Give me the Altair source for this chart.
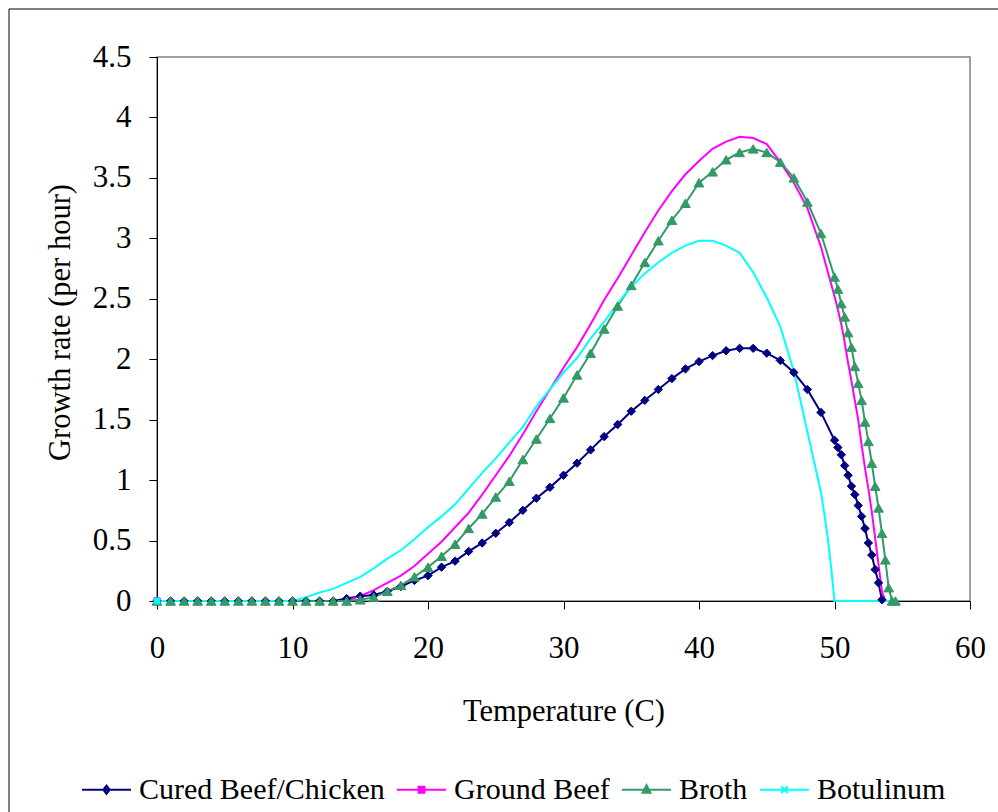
import altair as alt
import pandas as pd

SERIES = ["Cured Beef/Chicken", "Ground Beef", "Broth", "Botulinum"]
COLORS = ["#000080", "#FF00FF", "#339966", "#00FFFF"]

TEMPS_WHOLE = [0, 1, 2, 3, 4, 5, 6, 7, 8, 9, 10, 11, 12, 13, 14, 15, 16, 17, 18, 19,
               20, 21, 22, 23, 24, 25, 26, 27, 28, 29, 30, 31, 32, 33, 34, 35, 36, 37, 38, 39,
               40, 41, 42, 43, 44, 45, 46, 47, 48, 49]

# Cured Beef/Chicken
CURED_T = TEMPS_WHOLE + [50, 50.25, 50.5, 50.75, 51, 51.25, 51.5, 51.75, 52, 52.25,
                         52.5, 52.75, 53, 53.25, 53.5]
CURED_V = [0, 0, 0, 0, 0, 0, 0, 0, 0, 0, 0, 0, 0, 0,
           0.02, 0.04, 0.05, 0.08, 0.12, 0.17, 0.21, 0.28, 0.33, 0.41, 0.48, 0.56, 0.65, 0.75,
           0.85, 0.94, 1.04, 1.14, 1.25, 1.36, 1.46, 1.57, 1.66, 1.75, 1.84, 1.92, 1.98, 2.03,
           2.07, 2.09, 2.09, 2.05, 1.99, 1.89, 1.75, 1.56,
           1.33, 1.27, 1.21, 1.12, 1.04, 0.95, 0.88, 0.79, 0.70, 0.60, 0.48, 0.38, 0.26, 0.15, 0.01]

# Ground Beef
GROUND_T = TEMPS_WHOLE + [50, 50.25, 50.5, 50.75, 51, 51.25, 51.5, 51.75, 52, 52.25,
                          52.5, 52.75, 53, 53.25, 53.5, 53.75, 54, 54.25, 54.5]
GROUND_V = [0, 0, 0, 0, 0, 0, 0, 0, 0, 0, 0, 0, 0, 0, 0,
            0.04, 0.09, 0.15, 0.21, 0.29, 0.39, 0.49, 0.61, 0.73, 0.88, 1.04, 1.20, 1.38,
            1.57, 1.75, 1.93, 2.10, 2.29, 2.49, 2.67, 2.86, 3.05, 3.23, 3.39, 3.53, 3.64,
            3.74, 3.80, 3.84, 3.83, 3.78, 3.63, 3.46, 3.25, 2.93,
            2.52, 2.41, 2.29, 2.14, 1.97, 1.82, 1.66, 1.50, 1.29, 1.10, 0.93, 0.74, 0.52,
            0.30, 0.08, 0, 0, 0, 0]

# Broth
BROTH_T = TEMPS_WHOLE + [50, 50.25, 50.5, 50.75, 51, 51.25, 51.5, 51.75, 52, 52.25,
                         52.5, 52.75, 53, 53.25, 53.5, 53.75, 54, 54.25, 54.5]
BROTH_V = [0, 0, 0, 0, 0, 0, 0, 0, 0, 0, 0, 0, 0, 0, 0,
           0.01, 0.03, 0.08, 0.13, 0.20, 0.28, 0.37, 0.47, 0.60, 0.72, 0.86, 0.99, 1.17,
           1.34, 1.51, 1.68, 1.87, 2.05, 2.25, 2.44, 2.61, 2.80, 2.98, 3.15, 3.29, 3.46,
           3.55, 3.65, 3.71, 3.74, 3.71, 3.63, 3.50, 3.30, 3.04,
           2.68, 2.58, 2.46, 2.35, 2.22, 2.10, 1.94, 1.80, 1.66, 1.48, 1.32, 1.14, 0.95,
           0.77, 0.56, 0.34, 0.11, 0, 0]

# Botulinum
BOTUL_T = TEMPS_WHOLE + [49.25, 49.5, 49.75, 50, 51, 52, 53, 54, 54.5]
BOTUL_V = [0, 0, 0, 0, 0, 0, 0, 0, 0, 0, 0,
           0.03, 0.07, 0.10, 0.15, 0.20, 0.27, 0.35, 0.42, 0.51, 0.61, 0.70, 0.80, 0.93,
           1.06, 1.18, 1.31, 1.44, 1.61, 1.75, 1.89, 2.01, 2.17, 2.31, 2.46, 2.60, 2.71,
           2.80, 2.88, 2.94, 2.98, 2.98, 2.94, 2.88, 2.72, 2.51, 2.27, 1.90, 1.40, 0.90,
           0.72, 0.52, 0.28, 0, 0, 0, 0, 0, 0]

X_TICKS = [0, 10, 20, 30, 40, 50, 60]
Y_TICKS = [0, 0.5, 1, 1.5, 2, 2.5, 3, 3.5, 4, 4.5]

rows = []
for name, ts, vs in [(SERIES[0], CURED_T, CURED_V), (SERIES[1], GROUND_T, GROUND_V),
                     (SERIES[2], BROTH_T, BROTH_V), (SERIES[3], BOTUL_T, BOTUL_V)]:
    for i, (t, v) in enumerate(zip(ts, vs)):
        rows.append({"series": name, "temp": t, "rate": v, "idx": i})
df = pd.DataFrame(rows)

FONT = "Liberation Serif"
TICK_FS = 31
TITLE_FS = 30.5
LEGEND_FS = 30

x_enc = alt.X("temp:Q", scale=alt.Scale(domain=[0, 60], nice=False, zero=False),
              axis=alt.Axis(values=X_TICKS, title="Temperature (C)", grid=False,
                            tickSize=8, tickColor="black", domainColor="black",
                            labelFont=FONT, labelFontSize=TICK_FS, labelColor="black",
                            labelPadding=24, labelFlush=False, labelOverlap=False,
                            titleFont=FONT, titleFontSize=TITLE_FS, titleFontWeight="normal",
                            titleColor="black", titleY=119, titleBaseline="alphabetic"))
y_enc = alt.Y("rate:Q", scale=alt.Scale(domain=[0, 4.5], nice=False),
              axis=alt.Axis(values=Y_TICKS, format="~g", title="Growth rate (per hour)",
                            grid=False, tickSize=8, tickColor="black", domainColor="black",
                            labelFont=FONT, labelFontSize=TICK_FS, labelColor="black",
                            labelPadding=18,
                            titleFont=FONT, titleFontSize=TITLE_FS, titleFontWeight="normal",
                            titleColor="black", titleX=-97, titleY=265, titleAngle=270,
                            titleAlign="center", titleBaseline="middle"))

# legend symbols: a line segment with the series marker in the middle
LEGEND_PATHS = [
    "M-1,0L1,0M0,-0.17L0.13,0L0,0.17L-0.13,0ZM0,-0.08L0,0.08M-0.06,0L0.06,0",
    "M-1,0L1,0M-0.12,-0.12L0.12,-0.12L0.12,0.12L-0.12,0.12ZM-0.06,-0.06L0.06,-0.06L0.06,0.06L-0.06,0.06Z",
    "M-1,0L1,0M0,-0.19L0.16,0.12L-0.16,0.12ZM0,-0.06L0.06,0.06L-0.06,0.06Z",
    "M-1,0L1,0M-0.13,-0.13L0.13,0.13M-0.13,0.13L0.13,-0.13",
]

legend = alt.Legend(
    title=None, orient="none", legendX=-76, legendY=707, direction="horizontal",
    labelFont=FONT, labelFontSize=LEGEND_FS, labelColor="black", labelOffset=7,
    labelLimit=0, columnPadding=8, symbolSize=2401, symbolStrokeWidth=2, padding=0,
    symbolOpacity=1,
)

base = alt.Chart(df)

layers = []
for s, c in zip(SERIES, COLORS):
    layers.append(
        base.transform_filter(alt.datum.series == s)
        .mark_line(strokeWidth=2, color=c)
        .encode(x=x_enc, y=y_enc, order="idx:Q")
    )

layers += [
    base.transform_filter(alt.datum.series == SERIES[0])
    .mark_point(shape="diamond", filled=True, size=70, color=COLORS[0], stroke=COLORS[0],
                strokeWidth=1, opacity=1)
    .encode(x=x_enc, y=y_enc),
    base.transform_filter((alt.datum.series == SERIES[1]) & (alt.datum.idx == 0))
    .mark_point(shape="square", filled=True, size=40, color=COLORS[1], stroke=COLORS[1],
                strokeWidth=1, opacity=1)
    .encode(x=x_enc, y=y_enc),
    base.transform_filter(alt.datum.series == SERIES[2])
    .mark_point(shape="triangle-up", filled=True, size=95, color=COLORS[2], stroke=COLORS[2],
                strokeWidth=1, opacity=1)
    .encode(x=x_enc, y=y_enc),
    base.transform_filter((alt.datum.series == SERIES[3]) & (alt.datum.idx == 0))
    .mark_point(shape="square", filled=True, size=30, color=COLORS[3], stroke=COLORS[3],
                strokeWidth=1, opacity=1)
    .encode(x=x_enc, y=y_enc),
]

# legend-only layer (no rows drawn; entries come from the explicit scale domains)
legend_layer = (
    base.transform_filter(alt.datum.idx < 0)
    .mark_point(filled=False, strokeWidth=2, opacity=1)
    .encode(
        x=x_enc, y=y_enc,
        color=alt.Color("series:N", scale=alt.Scale(domain=SERIES, range=COLORS), legend=legend),
        shape=alt.Shape("series:N", scale=alt.Scale(domain=SERIES, range=LEGEND_PATHS), legend=legend),
    )
)

frame_src = alt.Chart(pd.DataFrame({"k": [0]}))
frame_top = frame_src.mark_rule(color="black", strokeWidth=1).encode(
    x=alt.value(-148), x2=alt.value(900), y=alt.value(-48))
frame_left = frame_src.mark_rule(color="black", strokeWidth=1).encode(
    x=alt.value(-148), y=alt.value(-48), y2=alt.value(800))

chart = alt.layer(*layers, legend_layer, frame_top, frame_left).properties(
    width=813, height=544,
    autosize=alt.AutoSizeParams(type="none"),
    padding={"left": 157, "top": 57, "right": 28, "bottom": 211},
    background="white",
).configure_view(stroke="#808080", strokeWidth=1.5)

chart.save("out.html", embed_options={"renderer": "svg", "actions": False})
